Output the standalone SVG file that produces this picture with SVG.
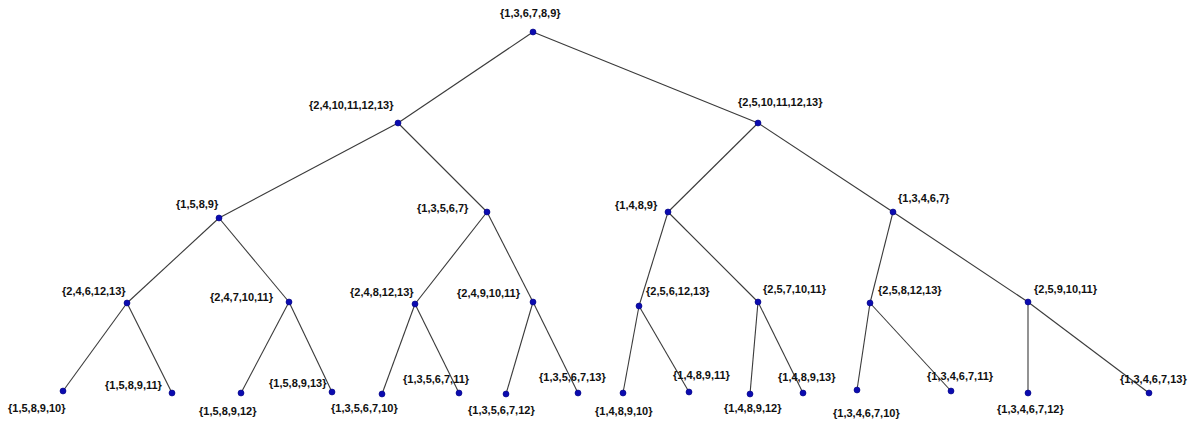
<svg xmlns="http://www.w3.org/2000/svg" width="1198" height="423" viewBox="0 0 1198 423">
<style>
.e{stroke:#3a3a3a;stroke-width:1.1;fill:none}
.n circle{fill:#0b0bb0;stroke:#000080;stroke-width:0.6}
text{font-family:"Liberation Sans",Arial,sans-serif;font-size:11px;font-weight:bold;fill:#111}
</style>
<rect width="1198" height="423" fill="#fff"/>
<g id="edges">
<line class="e" x1="533" y1="32" x2="398" y2="123"/>
<line class="e" x1="533" y1="32" x2="758" y2="123"/>
<line class="e" x1="398" y1="123" x2="219" y2="218"/>
<line class="e" x1="398" y1="123" x2="487" y2="212"/>
<line class="e" x1="758" y1="123" x2="668" y2="212"/>
<line class="e" x1="758" y1="123" x2="893" y2="212"/>
<line class="e" x1="219" y1="218" x2="127" y2="303"/>
<line class="e" x1="219" y1="218" x2="289" y2="302"/>
<line class="e" x1="487" y1="212" x2="415" y2="304"/>
<line class="e" x1="487" y1="212" x2="533" y2="302"/>
<line class="e" x1="668" y1="212" x2="639" y2="306"/>
<line class="e" x1="668" y1="212" x2="758" y2="302"/>
<line class="e" x1="893" y1="212" x2="870" y2="303"/>
<line class="e" x1="893" y1="212" x2="1028" y2="302"/>
<line class="e" x1="127" y1="303" x2="63" y2="391"/>
<line class="e" x1="127" y1="303" x2="172" y2="393"/>
<line class="e" x1="289" y1="302" x2="241" y2="393"/>
<line class="e" x1="289" y1="302" x2="332" y2="392"/>
<line class="e" x1="415" y1="304" x2="382" y2="394"/>
<line class="e" x1="415" y1="304" x2="459" y2="393"/>
<line class="e" x1="533" y1="302" x2="506" y2="394"/>
<line class="e" x1="533" y1="302" x2="578" y2="393"/>
<line class="e" x1="639" y1="306" x2="623" y2="393"/>
<line class="e" x1="639" y1="306" x2="689" y2="392"/>
<line class="e" x1="758" y1="302" x2="750" y2="394"/>
<line class="e" x1="758" y1="302" x2="803" y2="393"/>
<line class="e" x1="870" y1="303" x2="857" y2="390"/>
<line class="e" x1="870" y1="303" x2="951" y2="391"/>
<line class="e" x1="1028" y1="302" x2="1028" y2="393"/>
<line class="e" x1="1028" y1="302" x2="1149" y2="393"/>
</g>
<g id="n0" class="n"><circle cx="533" cy="32" r="3"/><text x="500" y="17">{1,3,6,7,8,9}</text></g>
<g id="n1" class="n"><circle cx="398" cy="123" r="3"/><text x="309" y="109">{2,4,10,11,12,13}</text></g>
<g id="n2" class="n"><circle cx="758" cy="123" r="3"/><text x="738" y="106">{2,5,10,11,12,13}</text></g>
<g id="n3" class="n"><circle cx="219" cy="218" r="3"/><text x="176" y="208">{1,5,8,9}</text></g>
<g id="n4" class="n"><circle cx="487" cy="212" r="3"/><text x="417" y="212">{1,3,5,6,7}</text></g>
<g id="n5" class="n"><circle cx="668" cy="212" r="3"/><text x="615" y="209">{1,4,8,9}</text></g>
<g id="n6" class="n"><circle cx="893" cy="212" r="3"/><text x="898" y="202">{1,3,4,6,7}</text></g>
<g id="n7" class="n"><circle cx="127" cy="303" r="3"/><text x="62" y="295">{2,4,6,12,13}</text></g>
<g id="n8" class="n"><circle cx="289" cy="302" r="3"/><text x="210" y="301">{2,4,7,10,11}</text></g>
<g id="n9" class="n"><circle cx="415" cy="304" r="3"/><text x="350" y="296">{2,4,8,12,13}</text></g>
<g id="n10" class="n"><circle cx="533" cy="302" r="3"/><text x="457" y="297">{2,4,9,10,11}</text></g>
<g id="n11" class="n"><circle cx="639" cy="306" r="3"/><text x="646" y="295">{2,5,6,12,13}</text></g>
<g id="n12" class="n"><circle cx="758" cy="302" r="3"/><text x="763" y="293">{2,5,7,10,11}</text></g>
<g id="n13" class="n"><circle cx="870" cy="303" r="3"/><text x="878" y="294">{2,5,8,12,13}</text></g>
<g id="n14" class="n"><circle cx="1028" cy="302" r="3"/><text x="1034" y="293">{2,5,9,10,11}</text></g>
<g id="n15" class="n"><circle cx="63" cy="391" r="3"/><text x="8" y="412">{1,5,8,9,10}</text></g>
<g id="n16" class="n"><circle cx="172" cy="393" r="3"/><text x="105" y="389">{1,5,8,9,11}</text></g>
<g id="n17" class="n"><circle cx="241" cy="393" r="3"/><text x="199" y="415">{1,5,8,9,12}</text></g>
<g id="n18" class="n"><circle cx="332" cy="392" r="3"/><text x="269" y="387">{1,5,8,9,13}</text></g>
<g id="n19" class="n"><circle cx="382" cy="394" r="3"/><text x="331" y="412">{1,3,5,6,7,10}</text></g>
<g id="n20" class="n"><circle cx="459" cy="393" r="3"/><text x="403" y="383">{1,3,5,6,7,11}</text></g>
<g id="n21" class="n"><circle cx="506" cy="394" r="3"/><text x="468" y="414">{1,3,5,6,7,12}</text></g>
<g id="n22" class="n"><circle cx="578" cy="393" r="3"/><text x="539" y="381">{1,3,5,6,7,13}</text></g>
<g id="n23" class="n"><circle cx="623" cy="393" r="3"/><text x="595" y="415">{1,4,8,9,10}</text></g>
<g id="n24" class="n"><circle cx="689" cy="392" r="3"/><text x="673" y="379">{1,4,8,9,11}</text></g>
<g id="n25" class="n"><circle cx="750" cy="394" r="3"/><text x="724" y="412">{1,4,8,9,12}</text></g>
<g id="n26" class="n"><circle cx="803" cy="393" r="3"/><text x="778" y="381">{1,4,8,9,13}</text></g>
<g id="n27" class="n"><circle cx="857" cy="390" r="3"/><text x="833" y="417">{1,3,4,6,7,10}</text></g>
<g id="n28" class="n"><circle cx="951" cy="391" r="3"/><text x="927" y="380">{1,3,4,6,7,11}</text></g>
<g id="n29" class="n"><circle cx="1028" cy="393" r="3"/><text x="997" y="413">{1,3,4,6,7,12}</text></g>
<g id="n30" class="n"><circle cx="1149" cy="393" r="3"/><text x="1120" y="383">{1,3,4,6,7,13}</text></g>
</svg>
